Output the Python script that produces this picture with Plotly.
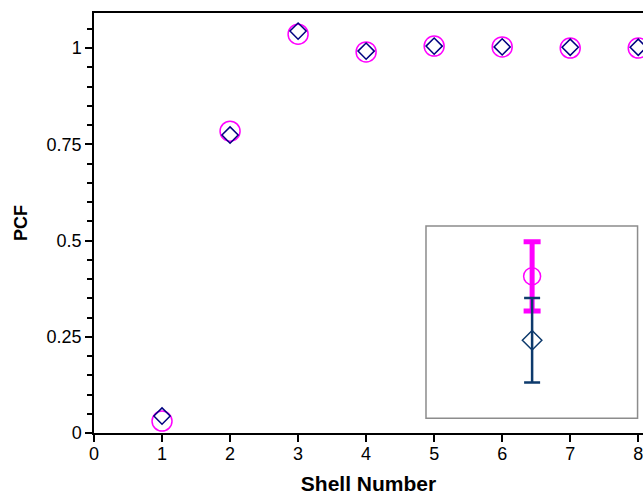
import plotly.graph_objects as go

# ---- data ----
shells = [1, 2, 3, 4, 5, 6, 7, 8]
pcf_circle = [0.031, 0.784, 1.036, 0.990, 1.005, 1.003, 1.000, 1.000]
pcf_diamond = [0.044, 0.774, 1.044, 0.992, 1.005, 1.003, 1.002, 1.002]

# inset (error-bar key) samples
key_x = [6.44]
key_circle = [0.407]
key_circle_err = [0.090]
key_diamond = [0.241]
key_diamond_err = [0.110]

x_ticks = [0, 1, 2, 3, 4, 5, 6, 7, 8]
y_ticks = [0, 0.25, 0.5, 0.75, 1]
y_tick_text = ["0", "0.25", "0.5", "0.75", "1"]

MAGENTA = "#ff00ff"
NAVY = "#000080"
DKBLUE = "#0d3a6c"
FONT = "Liberation Sans, Arial, sans-serif"

fig = go.Figure()

fig.add_trace(go.Scatter(
    x=shells, y=pcf_circle, mode="markers", cliponaxis=False,
    marker=dict(symbol="circle-open", size=20, color=MAGENTA, line=dict(width=1.5, color=MAGENTA)),
    showlegend=False))
fig.add_trace(go.Scatter(
    x=shells, y=pcf_diamond, mode="markers", cliponaxis=False,
    marker=dict(symbol="diamond-open", size=12.5, color=NAVY, line=dict(width=1.5, color=NAVY)),
    showlegend=False))

# inset box
fig.add_shape(type="rect", xref="x", yref="y", x0=4.88, x1=7.99, y0=0.038, y1=0.538,
              line=dict(color="#8c8c8c", width=1.5), fillcolor="rgba(0,0,0,0)", layer="below")

fig.add_trace(go.Scatter(
    x=key_x, y=key_circle, mode="markers", cliponaxis=False,
    error_y=dict(type="data", array=key_circle_err, visible=True, color=MAGENTA, thickness=5, width=8.5),
    marker=dict(symbol="circle-open", size=17, color=MAGENTA, line=dict(width=1.5, color=MAGENTA)),
    showlegend=False))
fig.add_trace(go.Scatter(
    x=key_x, y=key_diamond, mode="markers", cliponaxis=False,
    error_y=dict(type="data", array=key_diamond_err, visible=True, color=DKBLUE, thickness=2.5, width=8),
    marker=dict(symbol="diamond-open", size=15, color=DKBLUE, line=dict(width=1.5, color=DKBLUE)),
    showlegend=False))

fig.update_layout(
    width=643, height=495,
    margin=dict(l=94, r=0, t=13, b=62, pad=0),
    paper_bgcolor="white", plot_bgcolor="white",
    font=dict(family=FONT, color="black", size=17),
    showlegend=False,
)

fig.update_xaxes(
    range=[0, 8.07], tickmode="array", tickvals=x_ticks, automargin=False,
    ticks="outside", ticklen=7, tickwidth=1.5, tickcolor="black",
    ticklabelstandoff=-3, ticklabeloverflow="allow",
    showline=True, linecolor="black", linewidth=1.5, mirror=True,
    showgrid=False, zeroline=False,
    tickfont=dict(size=18, family=FONT),
    title=dict(text="<b>Shell Number</b>", font=dict(size=21, family=FONT), standoff=13),
)
fig.update_yaxes(
    range=[0, 1.091], tickmode="array", tickvals=y_ticks, ticktext=y_tick_text, automargin=False,
    ticks="outside", ticklen=7, tickwidth=1.5, tickcolor="black",
    minor=dict(ticks="outside", ticklen=5, tickwidth=1.5, tickcolor="black", dtick=0.05, tick0=0, showgrid=False),
    showline=True, linecolor="black", linewidth=1.5, mirror=False,
    showgrid=False, zeroline=False,
    tickfont=dict(size=18, family=FONT),
    title=dict(text="<b>PCF</b>", font=dict(size=18, family=FONT), standoff=14),
)

fig.write_html("out.html", config={"displayModeBar": False},
               post_script="document.body.style.margin='0px';")
